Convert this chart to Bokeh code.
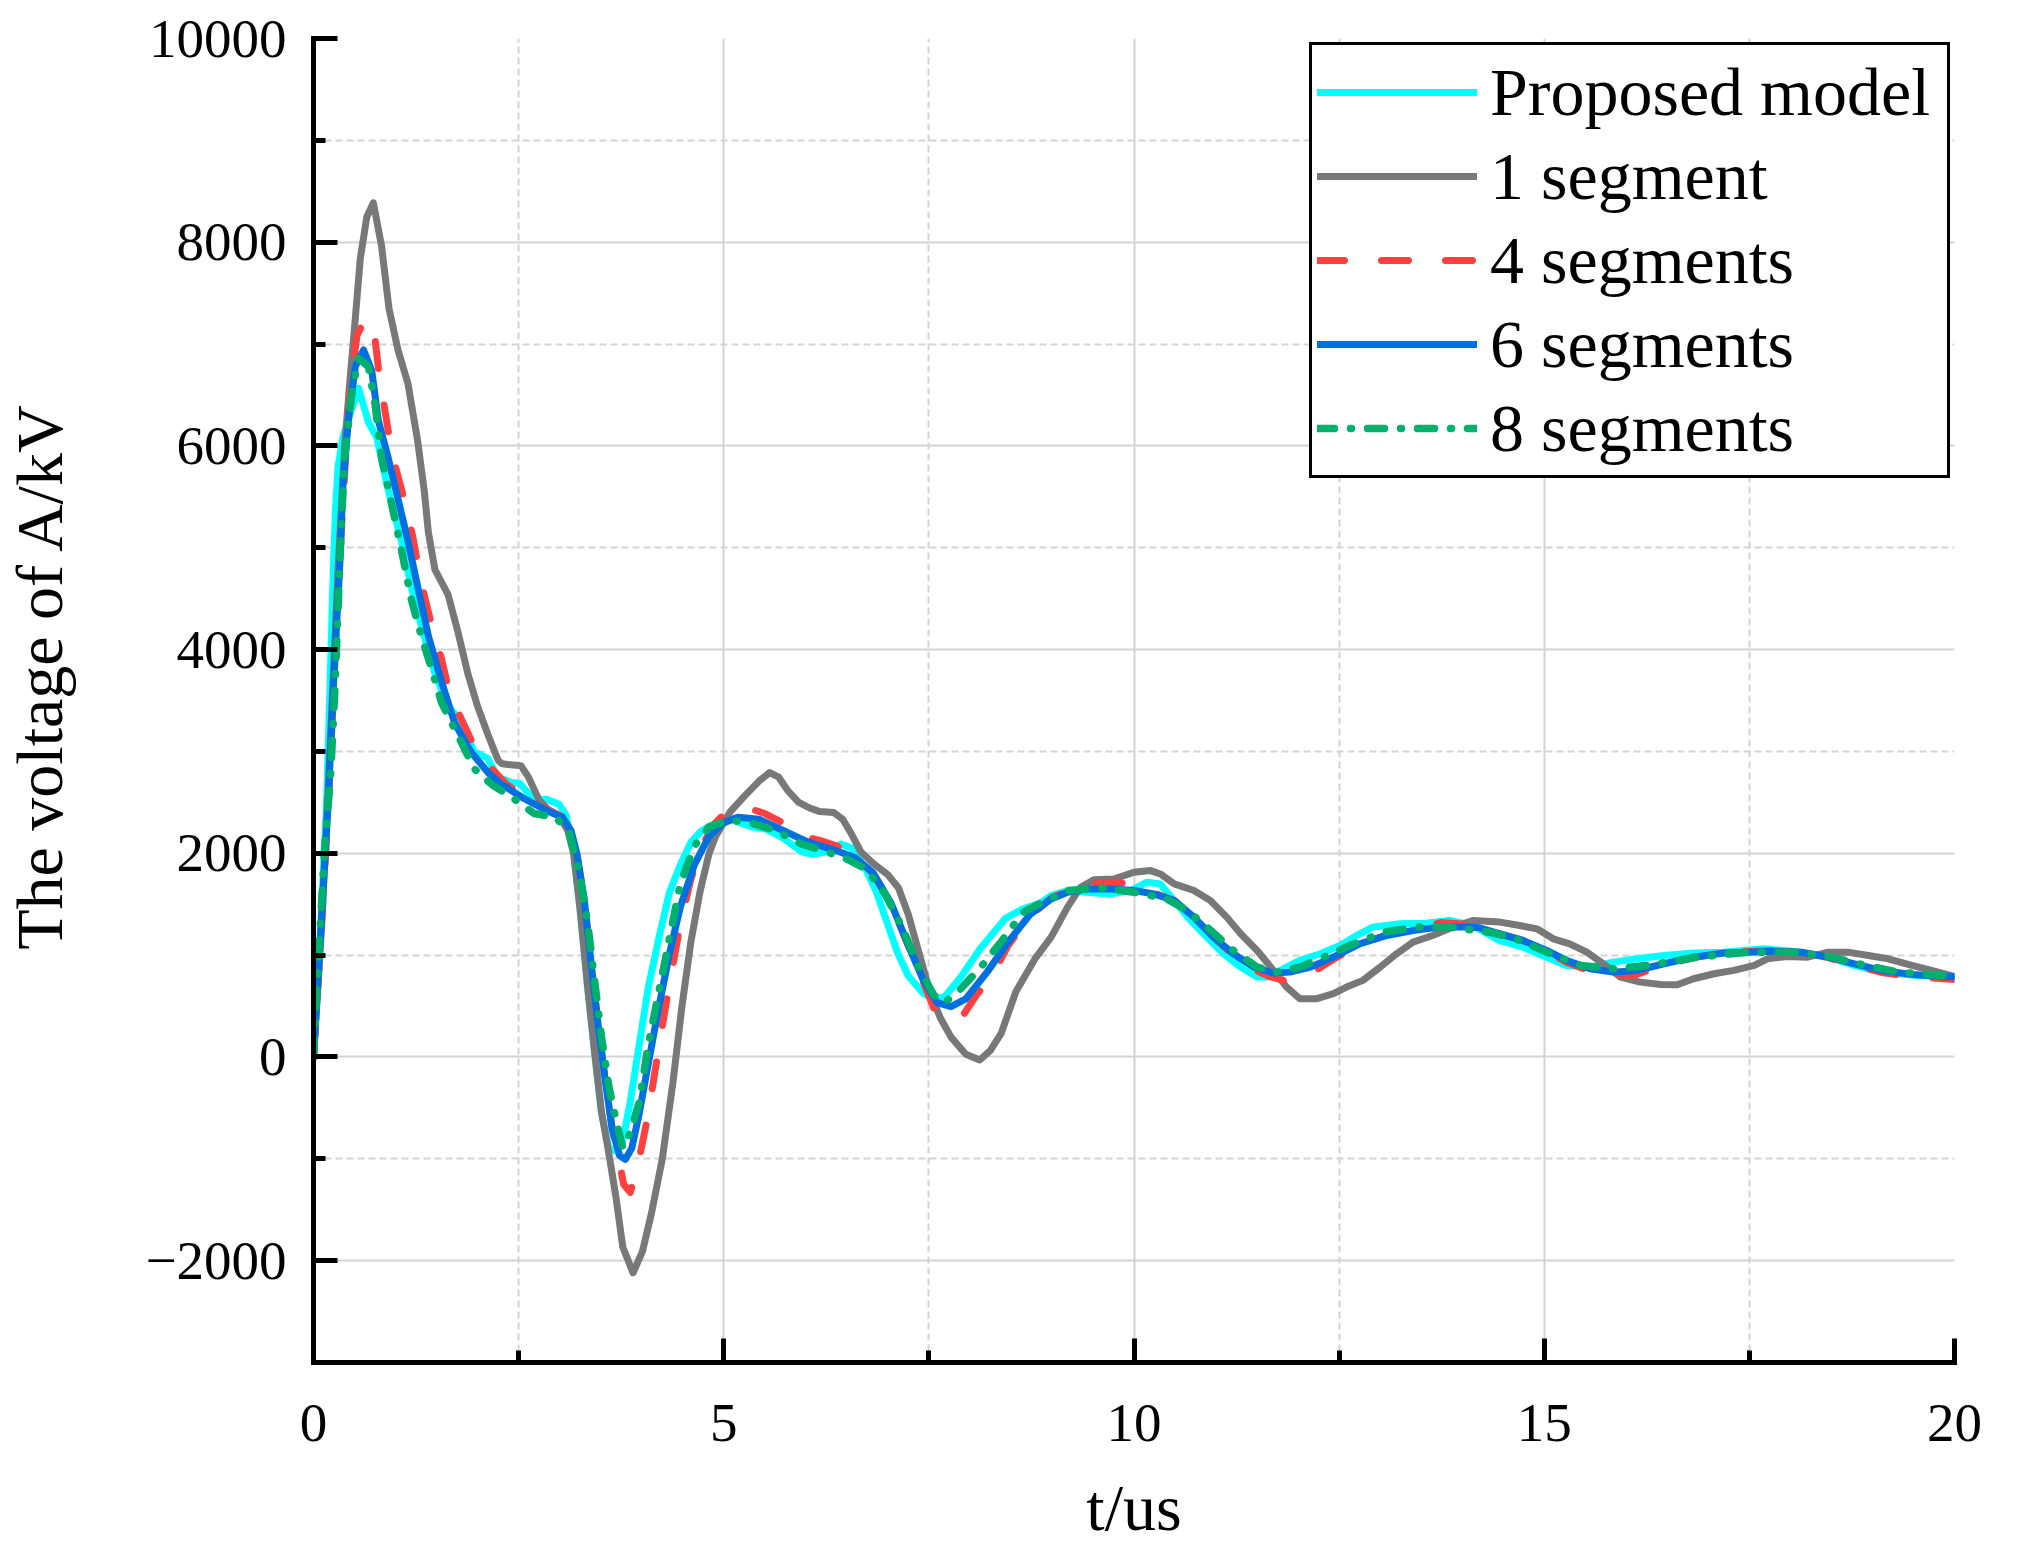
from bokeh.plotting import figure
from bokeh.models import FixedTicker, Legend, LegendItem, Range1d
from bokeh.embed import file_html
from bokeh.resources import INLINE

# ---------------- data ----------------
t_proposed = [0, 0.05, 0.1, 0.16, 0.2, 0.243, 0.27, 0.30, 0.36, 0.47, 0.55, 0.67, 0.77, 0.89, 0.99,
              1.07, 1.19, 1.32, 1.48, 1.64, 1.76, 1.84, 1.95, 2.12, 2.25, 2.43, 2.51, 2.69, 2.84, 2.99,
              3.08, 3.17, 3.25, 3.34, 3.43, 3.51, 3.60, 3.68, 3.76, 3.86, 3.97, 4.08, 4.21, 4.34, 4.47,
              4.6, 4.73, 4.9, 5.08, 5.34, 5.51, 5.73, 5.95, 6.08, 6.25, 6.43, 6.56, 6.73, 6.86, 6.99,
              7.12, 7.25, 7.43, 7.56, 7.69, 7.9, 8.12, 8.43, 8.64, 8.85, 8.99, 9.19, 9.43, 9.72, 9.96,
              10.16, 10.32, 10.49, 10.69, 10.89, 11.09, 11.30, 11.50, 11.62, 11.82, 12.02, 12.27, 12.51,
              12.75, 12.91, 13.24, 13.56, 13.85, 14.13, 14.45, 14.74, 15.03, 15.27, 15.56, 15.84, 16.13,
              16.46, 16.82, 17.19, 17.68, 18.13, 18.46, 18.78, 19.11, 19.52, 20.0]
v_proposed = [0, 700, 1500, 2514, 3600, 4825, 5400, 5800, 6087, 6372, 6567, 6230, 6087, 5640, 5314,
              5070, 4622, 4215, 3767, 3442, 3330, 3250, 3000, 2934, 2747, 2690, 2690, 2522, 2529, 2484,
              2371, 1996, 1433, 683, 8, -555, -893, -925, -860, -443, 120, 683, 1171, 1621, 1884,
              2109, 2221, 2296, 2334, 2259, 2240, 2146, 2015, 1989, 2015, 2090, 2052, 1846, 1621, 1321,
              1021, 795, 627, 570, 589, 795, 1058, 1358, 1452, 1508, 1585, 1634, 1618, 1601, 1634,
              1716, 1699, 1536, 1340, 1176, 1013, 882, 784, 784, 866, 948, 1013, 1095,
              1209, 1275, 1307, 1314, 1340, 1291, 1144, 1078, 980, 899, 882, 931, 964,
              997, 1020, 1029, 1062, 1029, 980, 899, 833, 801, 784]

t_seg1 = [0, 0.1, 0.2, 0.3, 0.38, 0.45, 0.49, 0.57, 0.65, 0.73, 0.83, 0.92, 1.03, 1.15, 1.27, 1.35,
          1.40, 1.48, 1.64, 1.76, 1.88, 2.0, 2.13, 2.25, 2.30, 2.53, 2.62, 2.75, 2.86, 2.99, 3.1,
          3.17, 3.25, 3.34, 3.43, 3.51, 3.60, 3.687, 3.77, 3.895, 4.01, 4.12, 4.25, 4.38, 4.49, 4.6,
          4.71, 4.82, 4.9, 5.08, 5.25, 5.43, 5.56, 5.67, 5.78, 5.91, 6.04, 6.17, 6.34, 6.45, 6.56,
          6.67, 6.82, 7.0, 7.13, 7.25, 7.38, 7.51, 7.64, 7.77, 7.95, 8.12, 8.25, 8.38, 8.56, 8.79,
          8.99, 9.19, 9.35, 9.51, 9.76, 10.0, 10.2, 10.32, 10.49, 10.73, 10.93, 11.13, 11.30, 11.5,
          11.70, 11.86, 12.02, 12.23, 12.43, 12.59, 12.79, 13.0, 13.2, 13.4, 13.64, 13.89, 14.13,
          14.46, 14.70, 14.91, 15.11, 15.31, 15.52, 15.72, 15.93, 16.17, 16.42, 16.62, 16.82, 17.07,
          17.31, 17.56, 17.72, 17.97, 18.21, 18.46, 18.70, 18.95, 19.19, 19.48, 19.72, 20.0]
v_seg1 = [0, 1300, 3000, 4800, 6000, 6700, 7064, 7837, 8250, 8387, 7960, 7349, 6942, 6616, 6046, 5558,
          5151, 4785, 4540, 4174, 3767, 3442, 3157, 2913, 2878, 2859, 2747, 2522, 2428, 2371, 2221,
          2000, 1450, 700, 20, -540, -950, -1381, -1869, -2120, -1906, -1531, -1006, -255, 495, 1133,
          1621, 1996, 2165, 2409, 2559, 2709, 2792, 2747, 2615, 2503, 2447, 2409, 2401, 2334, 2184,
          2015, 1902, 1790, 1659, 1396, 1021, 645, 383, 195, 26, -30, 64, 229, 640, 960,
          1176, 1471, 1667, 1739, 1748, 1814, 1830, 1797, 1699, 1634, 1536, 1373, 1209, 1046,
          850, 686, 572, 572, 621, 686, 752, 882, 1013, 1127, 1193, 1275, 1340,
          1324, 1291, 1258, 1160, 1111, 1029, 915, 784, 735, 712, 709, 768, 817,
          850, 899, 964, 987, 980, 1029, 1029, 997, 964, 899, 850, 791]

t_seg4 = [0, 0.08, 0.18, 0.25, 0.32, 0.40, 0.47, 0.53, 0.62, 0.69, 0.75, 0.80, 0.87, 0.95, 1.03,
          1.13, 1.21, 1.29, 1.36, 1.46, 1.56, 1.66, 1.80, 1.98, 2.17, 2.35, 2.56, 2.82, 3.03, 3.14,
          3.21, 3.30, 3.38, 3.47, 3.56, 3.64, 3.72, 3.78, 3.86, 3.93, 4.0, 4.08, 4.16, 4.25, 4.35,
          4.47, 4.6, 4.75, 4.9, 5.0, 5.15, 5.35, 5.5, 5.82, 6.0, 6.17, 6.38, 6.6, 6.82, 7.04, 7.25,
          7.43, 7.56, 7.72, 7.88, 8.08, 8.27, 8.47, 8.73, 8.99, 9.19, 9.5, 9.8, 10.0, 10.24, 10.49,
          10.73, 10.97, 11.21, 11.46, 11.65, 11.82, 12.0, 12.2, 12.43, 12.75, 13.08, 13.4, 13.75,
          14.05, 14.21, 14.46, 14.74, 15.03, 15.27, 15.64, 16.09, 16.46, 16.82, 17.19, 17.48, 17.80,
          18.13, 18.46, 18.78, 19.11, 19.48, 20.0]
v_seg4 = [0, 1050, 2450, 3700, 4900, 6000, 6700, 7084, 7230, 7240, 7050, 6700, 6350, 5950, 5700,
          5395, 5110, 4750, 4500, 4174, 3910, 3564, 3320, 3014, 2831, 2680, 2560, 2440, 2360, 2221,
          1990, 1540, 940, 300, -260, -700, -1000, -1250, -1330, -1150, -880, -560, -150, 300, 770,
          1300, 1750, 2100, 2300, 2380, 2440, 2430, 2390, 2259, 2160, 2127, 2071, 1970, 1800, 1500, 1090,
          740, 480, 410, 364, 608, 795, 1100, 1380, 1560, 1630, 1700, 1716, 1680, 1610, 1536,
          1373, 1176, 1000, 860, 790, 752, 790, 840, 960, 1100, 1200, 1260, 1320,
          1300, 1268, 1209, 1144, 1040, 930, 817, 801, 900, 975, 1020, 1035, 1045,
          1030, 975, 900, 830, 790, 760]

t_seg6 = [0, 0.08, 0.18, 0.24, 0.32, 0.36, 0.43, 0.51, 0.61, 0.71, 0.79, 0.91, 1.03, 1.15, 1.28, 1.40,
          1.56, 1.72, 1.92, 2.13, 2.30, 2.56, 2.82, 3.03, 3.14, 3.21, 3.30, 3.38, 3.47, 3.56, 3.64,
          3.73, 3.80, 3.88, 3.97, 4.08, 4.21, 4.34, 4.47, 4.64, 4.82, 4.99, 5.17, 5.43, 5.73, 6.03,
          6.34, 6.6, 6.82, 7.04, 7.25, 7.43, 7.6, 7.77, 7.95, 8.21, 8.47, 8.73, 8.99, 9.19, 9.43,
          9.72, 10.0, 10.24, 10.49, 10.73, 10.97, 11.21, 11.46, 11.70, 11.90, 12.15, 12.43, 12.75,
          13.08, 13.4, 13.72, 14.05, 14.21, 14.46, 14.74, 15.03, 15.27, 15.56, 15.84, 16.13, 16.46,
          16.82, 17.19, 17.48, 17.80, 18.13, 18.46, 18.78, 19.11, 19.48, 20.0]
v_seg6 = [0, 1100, 2514, 3604, 4825, 5640, 6290, 6779, 6942, 6738, 6250, 5884, 5477, 5070, 4581, 4133,
          3686, 3279, 2994, 2790, 2672, 2540, 2428, 2353, 2221, 1996, 1546, 946, 308, -255, -705,
          -968, -1006, -893, -555, -68, 495, 1021, 1471, 1884, 2165, 2296, 2353, 2334, 2221, 2109,
          2034, 1959, 1809, 1508, 1096, 758, 533, 495, 570, 833, 1133, 1396, 1552, 1618, 1650,
          1650, 1634, 1601, 1536, 1373, 1176, 1013, 882, 824, 833, 882, 980, 1111,
          1193, 1242, 1275, 1275, 1268, 1209, 1144, 1046, 948, 866, 833, 850, 915,
          980, 1020, 1029, 1039, 1029, 980, 915, 850, 810, 784]

t_seg8 = [0, 0.07, 0.14, 0.21, 0.26, 0.30, 0.34, 0.38, 0.47, 0.55, 0.67, 0.75, 0.83, 0.95, 1.07,
          1.19, 1.30, 1.44, 1.56, 1.76, 1.96, 2.05, 2.2, 2.4, 2.69, 2.95, 3.12, 3.25, 3.34, 3.43,
          3.51, 3.60, 3.69, 3.77, 3.86, 3.97, 4.08, 4.21, 4.34, 4.47, 4.64, 4.82, 5.08, 5.34, 5.64,
          5.95, 6.25, 6.51, 6.73, 6.95, 7.17, 7.38, 7.56, 7.69, 7.86, 8.12, 8.38, 8.64, 8.81, 9.19,
          9.6, 10.0, 10.4, 10.65, 10.89, 11.21, 11.50, 11.74, 12.02, 12.31, 12.63, 13.04, 13.44,
          13.85, 14.33, 14.62, 15.03, 15.44, 15.84, 16.25, 16.87, 17.48, 18.09, 18.5, 18.91, 19.31,
          20.0]
v_seg8 = [0, 1100, 2100, 2790, 3604, 4418, 5232, 5884, 6535, 6860, 6779, 6413, 5884, 5436, 4988,
          4500, 4174, 3808, 3482, 3157, 2831, 2760, 2660, 2560, 2390, 2353, 2203, 1771, 1321, 720,
          195, -293, -630, -893, -743, -443, 120, 645, 1171, 1696, 2071, 2259, 2326, 2296, 2221,
          2090, 2015, 1940, 1846, 1621, 1283, 870, 608, 533, 645, 870, 1130, 1415, 1490, 1634,
          1660, 1618, 1552, 1438, 1275, 1046, 882, 833, 882, 980, 1095, 1225, 1275,
          1275, 1225, 1170, 1029, 899, 866, 899, 980, 1029, 1029, 980, 899, 833,
          791]

x_ticks = [0, 5, 10, 15, 20]
x_minor = [2.5, 7.5, 12.5, 17.5]
y_ticks = [-2000, 0, 2000, 4000, 6000, 8000, 10000]
y_minor = [-1000, 1000, 3000, 5000, 7000, 9000]
labels = ["Proposed model", "1 segment", "4 segments", "6 segments", "8 segments"]
x_title = "t/us"
y_title = "The voltage of A/kV"

FONT = "Liberation Serif"
GRID = "#d3d3d3"

p = figure(width=2000, height=1550, x_range=Range1d(0, 20), y_range=Range1d(-3000, 10000),
           output_backend="svg", toolbar_location=None,
           min_border_left=312, min_border_right=46, min_border_top=38, min_border_bottom=188)
p.outline_line_color = None
p.background_fill_color = "white"

# grids
p.xgrid.ticker = FixedTicker(ticks=[t for t in x_ticks if 0 < t < 20], minor_ticks=x_minor)
p.ygrid.ticker = FixedTicker(ticks=[t for t in y_ticks if t < 10000], minor_ticks=y_minor)
for g in (p.xgrid[0], p.ygrid[0]):
    g.grid_line_color = GRID
    g.grid_line_width = 2
    g.minor_grid_line_color = GRID
    g.minor_grid_line_width = 2
    g.minor_grid_line_dash = "7 4"

# axes
p.xaxis.ticker = FixedTicker(ticks=x_ticks, minor_ticks=x_minor)
p.yaxis.ticker = FixedTicker(ticks=y_ticks, minor_ticks=y_minor)
p.yaxis.major_label_overrides = {-2000: "\u22122000"}
for ax in (p.xaxis[0], p.yaxis[0]):
    ax.axis_line_color = "black"
    ax.axis_line_width = 5
    ax.axis_line_cap = "square"
    ax.major_tick_line_color = "black"
    ax.major_tick_line_width = 5
    ax.minor_tick_line_color = "black"
    ax.minor_tick_line_width = 5
    ax.major_tick_in = 24
    ax.major_tick_out = 0
    ax.minor_tick_in = 12
    ax.minor_tick_out = 0
    ax.major_label_text_font = FONT
    ax.major_label_text_font_size = "55px"
    ax.major_label_text_color = "black"
    ax.axis_label_text_font = FONT
    ax.axis_label_text_font_size = "66px"
    ax.axis_label_text_font_style = "normal"
    ax.axis_label_text_color = "black"
p.xaxis.axis_label = x_title
p.yaxis.axis_label = "\u00a0\u00a0\u00a0" + y_title
p.xaxis.major_label_standoff = 42
p.yaxis.major_label_standoff = 27
p.xaxis.axis_label_standoff = 27
p.yaxis.axis_label_standoff = 66

series = [
    (t_proposed, v_proposed, "#00ffff", 7, "solid"),
    (t_seg1, v_seg1, "#787878", 7, "solid"),
    (t_seg4, v_seg4, "#ff4040", 7, "27 37"),
    (t_seg6, v_seg6, "#0070e0", 7, "solid"),
    (t_seg8, v_seg8, "#00b06e", 7.5, "17 16 1 16"),
]
items = []
for (tx, vy, col, lw, dash), lab in zip(series, labels):
    r = p.line(tx, vy, line_color=col, line_width=lw, line_dash=dash,
               line_join="round", line_cap="round")
    items.append(LegendItem(label=lab, renderers=[r]))

legend = Legend(items=items, location="top_right")
legend.label_text_font = FONT
legend.label_text_font_size = "68px"
legend.label_text_color = "black"
legend.glyph_width = 160
legend.glyph_height = 84
legend.label_height = 84
legend.label_width = 452
legend.label_standoff = 13
legend.spacing = 0
legend.padding = 5
legend.margin = 4
legend.border_line_color = "black"
legend.border_line_alpha = 1
legend.border_line_width = 3
legend.background_fill_color = "white"
legend.background_fill_alpha = 1
p.add_layout(legend)

open("out.html", "w").write(file_html(p, INLINE))
